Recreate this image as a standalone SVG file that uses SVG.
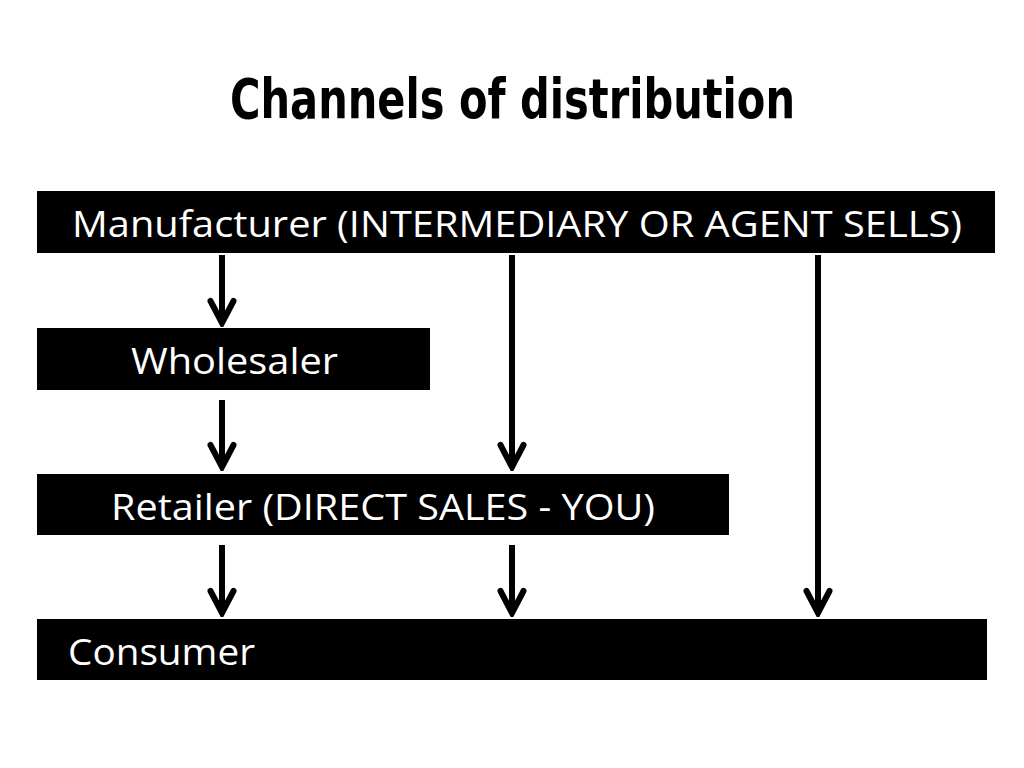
<svg xmlns="http://www.w3.org/2000/svg" width="1024" height="768" viewBox="0 0 1024 768">
<style>
.box{fill:#000}
.lbl{fill:#fff;font-family:"Open Sans","Liberation Sans",sans-serif;font-size:36px}
.title{fill:#000;font-family:"DejaVu Sans Condensed","Liberation Sans Narrow","DejaVu Sans",sans-serif;font-weight:bold;font-size:55px;font-stretch:condensed}
.conn line{stroke:#000;stroke-width:6;marker-end:url(#arr)}
</style>
<defs>
<marker id="arr" markerUnits="userSpaceOnUse" markerWidth="32" markerHeight="32" viewBox="-28 -16 32 32" refX="0" refY="0" orient="auto">
<path d="M -22 -11.5 L 0 0 L -22 11.5" fill="none" stroke="#000" stroke-width="6" stroke-linecap="round" stroke-linejoin="miter"/>
</marker>
</defs>
<rect width="1024" height="768" fill="#fff"/>
<text class="title" x="230" y="118" textLength="565" lengthAdjust="spacingAndGlyphs">Channels of distribution</text>
<g id="manufacturer"><rect class="box" x="37" y="191" width="958" height="62"/><text class="lbl" x="72" y="237" textLength="890" lengthAdjust="spacingAndGlyphs">Manufacturer (INTERMEDIARY OR AGENT SELLS)</text></g>
<g id="wholesaler"><rect class="box" x="37" y="328" width="393" height="62"/><text class="lbl" x="131" y="374" textLength="207" lengthAdjust="spacingAndGlyphs">Wholesaler</text></g>
<g id="retailer"><rect class="box" x="37" y="474" width="692" height="61"/><text class="lbl" x="111" y="520" textLength="544" lengthAdjust="spacingAndGlyphs">Retailer (DIRECT SALES - YOU)</text></g>
<g id="consumer"><rect class="box" x="37" y="619" width="950" height="61"/><text class="lbl" x="68" y="665" textLength="187" lengthAdjust="spacingAndGlyphs">Consumer</text></g>
<g id="connectors" class="conn">
<line x1="222" y1="255" x2="222" y2="323"/>
<line x1="222" y1="400" x2="222" y2="467"/>
<line x1="222" y1="545" x2="222" y2="613"/>
<line x1="512" y1="255" x2="512" y2="467"/>
<line x1="512" y1="545" x2="512" y2="613"/>
<line x1="818" y1="255" x2="818" y2="613"/>
</g>
</svg>
